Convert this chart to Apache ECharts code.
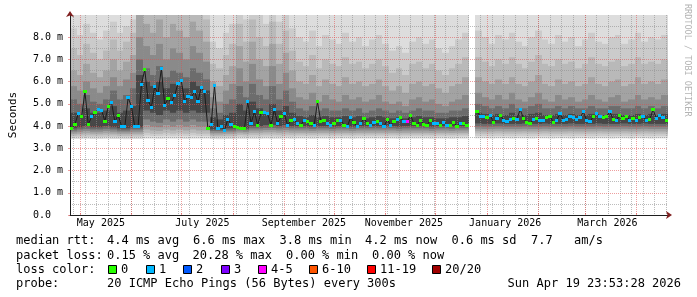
<!DOCTYPE html>
<html><head><meta charset="utf-8">
<script src="https://cdn.jsdelivr.net/npm/echarts@6/dist/echarts.min.js"></script>
<style>html,body{margin:0;padding:0;background:#fff}#c{width:697px;height:297px}</style>
</head><body><div id="c"></div>
<script>
// ---------- time frame (days since 2025-04-25, 360 days shown) ----------
const totalDays = 360;
const smokeStep = 4;   // days per smoke bucket
const medianStep = 2;  // days per median bucket
const monthStartDays = [6, 37, 67, 98, 129, 159, 190, 220, 251, 282, 310, 341];
const xLabelDays = [18.6, 79.7, 140.8, 201, 262, 323.5];
const xLabels = ['May 2025', 'July 2025', 'September 2025', 'November 2025', 'January 2026', 'March 2026'];
const yMajorTicks = [0, 1, 2, 3, 4, 5, 6, 7, 8];
const yTickLabels = ['0.0  ', '1.0 m', '2.0 m', '3.0 m', '4.0 m', '5.0 m', '6.0 m', '7.0 m', '8.0 m'];

// ---------- median rtt (ms), one value per 2 days ----------
const medianRtt = [
3.90,4.09,4.57,4.42,5.54,4.07,4.42,4.60,4.75,4.72,4.22,4.87,5.07,4.20,4.50,4.00,3.97,5.29,4.87,3.97,
4.00,5.86,6.55,5.17,4.84,5.77,5.45,6.59,4.94,5.23,5.05,5.38,5.92,6.04,5.09,5.35,5.29,5.57,5.09,5.74,
5.54,3.90,4.07,5.84,3.90,4.00,3.82,4.30,4.09,4.00,3.95,3.90,3.88,5.09,4.12,4.64,4.05,4.60,4.60,4.55,
4.05,4.75,4.12,4.42,4.55,4.05,4.24,4.30,4.10,4.05,4.27,4.20,4.12,4.05,5.09,4.20,4.27,4.12,4.05,4.12,
4.27,4.27,4.05,4.00,4.40,4.15,3.97,4.12,4.35,4.12,4.05,4.15,4.20,4.12,3.97,4.30,4.05,4.20,4.30,4.37,
4.20,4.20,4.50,4.12,4.05,4.27,4.07,4.05,4.27,4.12,4.12,4.05,4.15,4.05,4.05,4.15,4.00,4.12,4.12,4.05,
null,null,4.64,4.45,4.42,4.37,4.50,4.15,4.35,4.50,4.27,4.20,4.30,4.35,4.30,4.75,4.35,4.15,4.12,4.30,
4.35,4.27,4.27,4.37,4.45,4.15,4.27,4.57,4.24,4.30,4.42,4.37,4.30,4.37,4.64,4.27,4.20,4.42,4.57,4.45,
4.37,4.45,4.64,4.30,4.27,4.50,4.35,4.45,4.27,4.35,4.27,4.37,4.45,4.24,4.30,4.75,4.35,4.50,4.37,4.27
];
// packet loss class index per median bucket (0 = "0", 1 = "1", 4 = "4-5")
const lossClass = [
0,0,1,0,0,0,1,0,1,1,0,0,1,1,0,1,1,1,1,1,
1,1,0,1,1,1,1,1,1,0,1,1,1,1,1,1,1,1,1,1,
1,0,1,1,1,1,1,1,1,0,0,0,0,1,1,1,0,0,1,1,
0,1,1,0,1,1,0,1,1,0,1,0,0,1,0,0,0,1,1,0,
0,1,0,1,1,0,1,1,0,0,1,1,0,1,1,0,1,0,1,0,
1,4,0,0,0,0,0,0,0,1,1,0,1,1,0,0,0,1,0,0,
null,null,0,1,1,0,1,0,1,0,1,1,1,0,1,1,0,0,0,1,
0,1,1,0,0,0,1,1,1,1,1,1,1,1,1,1,1,0,1,1,
0,0,1,0,1,0,0,0,1,0,1,0,1,1,0,0,1,1,1,0
];

// ---------- smoke: sorted-ping band edges (ms), one value per 4 days ----------
const smokeU1 = [
9.6,9.6,9.6,9.6,9.6,9.6,9.6,9.6,9.6,9.6, 9.6, 9.6,9.6,9.6,9.6,9.6,9.6,9.6,9.6,9.6,9.6, 9.6,9.6,9.6,9.6, 9.6,9.6,9.6,9.6,9.6,9.6,9.6,9.6,9.6,
9.6,9.6,9.6,9.6,9.6,9.6,9.6,9.6,9.6,9.6,9.6,9.6,9.6,9.6,9.6,9.6,9.6,9.6,9.6,9.6,9.6,9.6,9.6,9.6,9.6,9.6, null,
9.6,9.6,9.6,9.6,9.6,9.6,9.6,9.6,9.6,9.6,9.6,9.6,9.6,9.6,9.6,9.6,9.6,9.6,9.6,9.6,9.6,9.6,9.6,9.6,9.6,9.6,9.6,9.6,9.6];
const smokeU2 = [
8.4,8.1,8.6,8.2,7.9,8.3,8.7,8.2,8.5,8.8, 9.6, 9.6,9.6,9.6,9.6,9.6,9.6,9.6,9.6,9.6,9.6, 7.8,7.5,8.2,8.6, 9.5,8.8,9.5,9.0,8.6,9.5,8.7,9.2,8.4,
8.0,7.8,8.3,7.6,8.1,7.9,7.7,8.2,7.8,8.0,7.6,7.9,8.1,7.7,7.4,7.6,7.3,7.8,8.0,7.7,7.9,7.5,7.3,7.6,7.9,8.2, null,
8.3,8.0,7.7,8.1,7.9,8.2,7.8,7.6,8.0,8.3,7.9,7.7,8.1,7.8,8.0,7.6,7.9,8.2,7.8,7.7,8.0,8.1,7.7,7.9,8.2,7.8,8.0,7.9,8.1];
const smokeU3 = [
7.5,7.2,7.7,7.3,7.0,7.4,7.9,7.4,7.8,8.2, 9.6, 9.6,9.2,9.6,9.0,9.6,9.3,9.0,9.6,9.2,8.8, 6.8,6.6,7.2,7.7, 8.6,7.8,8.8,8.0,7.6,8.7,7.7,8.3,7.4,
6.9,6.7,7.2,6.6,7.0,6.8,6.7,7.1,6.8,6.9,6.6,6.8,7.0,6.7,6.4,6.6,6.3,6.8,6.9,6.6,6.8,6.5,6.3,6.6,6.8,7.1, null,
7.1,6.9,6.7,7.0,6.8,7.1,6.8,6.6,6.9,7.2,6.8,6.7,7.0,6.8,6.9,6.6,6.8,7.1,6.8,6.7,6.9,7.0,6.7,6.8,7.1,6.8,6.9,6.8,7.0];
const smokeU4 = [
6.5,6.3,6.8,6.4,6.2,6.5,7.0,6.5,6.9,7.2, 9.0, 8.6,8.2,8.8,8.0,8.6,8.3,8.0,8.7,8.3,7.8, 6.0,5.8,6.3,6.7, 7.6,6.9,7.8,7.0,6.7,7.7,6.8,7.3,6.5,
6.0,5.9,6.3,5.8,6.1,5.9,5.8,6.2,5.9,6.0,5.8,5.9,6.1,5.8,5.6,5.8,5.5,5.9,6.0,5.8,5.9,5.7,5.5,5.8,5.9,6.2, null,
6.2,6.0,5.9,6.1,5.9,6.2,5.9,5.8,6.0,6.3,5.9,5.8,6.1,5.9,6.0,5.8,5.9,6.2,5.9,5.8,6.0,6.1,5.8,5.9,6.2,5.9,6.0,5.9,6.1];
const smokeU5 = [
5.8,5.6,6.0,5.7,5.5,5.8,6.2,5.8,6.1,6.4, 8.0, 7.6,7.2,7.7,7.0,7.5,7.3,7.0,7.6,7.3,6.9, 5.3,5.1,5.6,5.9, 6.6,6.0,6.8,6.1,5.8,6.7,5.9,6.4,5.7,
5.3,5.2,5.5,5.1,5.4,5.2,5.1,5.4,5.2,5.3,5.1,5.2,5.4,5.1,5.0,5.1,4.9,5.2,5.3,5.1,5.2,5.0,4.9,5.1,5.2,5.4, null,
5.5,5.3,5.2,5.4,5.2,5.5,5.2,5.1,5.3,5.5,5.2,5.1,5.4,5.2,5.3,5.1,5.2,5.4,5.2,5.1,5.3,5.4,5.1,5.2,5.4,5.2,5.3,5.2,5.4];
const smokeU6 = [
5.2,5.0,5.4,5.1,5.0,5.2,5.6,5.2,5.4,5.7, 7.0, 6.6,6.3,6.7,6.2,6.5,6.4,6.2,6.6,6.4,6.1, 4.8,4.6,5.0,5.2, 5.8,5.3,5.9,5.4,5.2,5.8,5.2,5.6,5.1,
4.8,4.7,4.9,4.7,4.8,4.7,4.7,4.8,4.7,4.8,4.6,4.7,4.8,4.7,4.6,4.7,4.6,4.7,4.8,4.7,4.7,4.6,4.6,4.7,4.7,4.8, null,
5.0,4.9,4.8,4.9,4.8,5.0,4.8,4.8,4.9,5.0,4.8,4.8,4.9,4.8,4.9,4.8,4.8,4.9,4.8,4.8,4.9,4.9,4.8,4.8,4.9,4.8,4.9,4.8,4.9];
const smokeU7 = [
4.6,4.5,4.8,4.6,4.6,4.7,4.9,4.6,4.7,4.9, 6.3, 6.0,5.8,6.0,5.7,5.9,5.8,5.7,6.0,5.8,5.6, 4.4,4.3,4.5,4.6, 5.0,4.7,5.1,4.8,4.6,5.0,4.7,4.9,4.6,
4.45,4.4,4.5,4.4,4.45,4.4,4.4,4.45,4.4,4.45,4.35,4.4,4.45,4.4,4.35,4.4,4.35,4.4,4.45,4.4,4.4,4.35,4.35,4.4,4.4,4.45, null,
4.6,4.55,4.5,4.55,4.5,4.6,4.5,4.5,4.55,4.6,4.5,4.5,4.55,4.5,4.55,4.5,4.5,4.55,4.5,4.5,4.55,4.55,4.5,4.5,4.55,4.5,4.55,4.5,4.55];
const smokeL7 = [
3.9,3.95,4.0,3.95,3.95,4.0,3.95,3.9,3.9,3.95, 3.95, 4.7,4.6,4.5,4.7,4.6,4.7,4.6,4.7,4.6,4.6, 3.85,3.85,3.9,3.9, 3.95,3.9,4.0,4.0,4.05,4.05,4.0,4.05,4.0,
4.0,4.0,3.98,4.0,4.0,3.98,4.0,4.0,3.98,4.0,4.0,4.0,4.0,4.0,4.0,3.98,4.0,4.0,4.0,4.0,3.98,4.0,4.0,3.98,4.0,4.0, null,
4.12,4.1,4.1,4.12,4.1,4.1,4.1,4.12,4.1,4.1,4.12,4.1,4.1,4.1,4.12,4.1,4.1,4.1,4.12,4.1,4.1,4.1,4.12,4.1,4.1,4.12,4.1,4.1,4.1];
const smokeL6 = [
3.8,3.85,3.88,3.85,3.85,3.88,3.85,3.8,3.8,3.85, 3.85, 4.3,4.2,4.15,4.3,4.2,4.3,4.2,4.3,4.2,4.2, 3.78,3.78,3.8,3.8, 3.85,3.82,3.9,3.9,3.92,3.92,3.9,3.92,3.9,
3.9,3.9,3.88,3.9,3.9,3.88,3.9,3.9,3.88,3.9,3.9,3.9,3.9,3.9,3.9,3.88,3.9,3.9,3.9,3.9,3.88,3.9,3.9,3.88,3.9,3.9, null,
3.99,3.98,3.98,3.99,3.98,3.98,3.98,3.99,3.98,3.98,3.99,3.98,3.98,3.98,3.99,3.98,3.98,3.98,3.99,3.98,3.98,3.98,3.99,3.98,3.98,3.99,3.98,3.98,3.98];
const smokeL5 = [
3.72,3.75,3.78,3.75,3.75,3.78,3.75,3.72,3.72,3.75, 3.75, 4.05,3.98,3.95,4.05,3.98,4.05,3.98,4.05,3.98,3.98, 3.7,3.7,3.72,3.72, 3.76,3.74,3.8,3.8,3.82,3.82,3.8,3.82,3.8,
3.8,3.8,3.78,3.8,3.8,3.78,3.8,3.8,3.78,3.8,3.8,3.8,3.8,3.8,3.8,3.78,3.8,3.8,3.8,3.8,3.78,3.8,3.8,3.78,3.8,3.8, null,
3.88,3.87,3.87,3.88,3.87,3.87,3.87,3.88,3.87,3.87,3.88,3.87,3.87,3.87,3.88,3.87,3.87,3.87,3.88,3.87,3.87,3.87,3.88,3.87,3.87,3.88,3.87,3.87,3.87];
const smokeL4 = [
3.64,3.66,3.68,3.66,3.66,3.68,3.66,3.64,3.64,3.66, 3.66, 3.85,3.8,3.78,3.85,3.8,3.85,3.8,3.85,3.8,3.8, 3.62,3.62,3.64,3.64, 3.68,3.66,3.7,3.7,3.72,3.72,3.7,3.72,3.7,
3.7,3.7,3.69,3.7,3.7,3.69,3.7,3.7,3.69,3.7,3.7,3.7,3.7,3.7,3.7,3.69,3.7,3.7,3.7,3.7,3.69,3.7,3.7,3.69,3.7,3.7, null,
3.77,3.76,3.76,3.77,3.76,3.76,3.76,3.77,3.76,3.76,3.77,3.76,3.76,3.76,3.77,3.76,3.76,3.76,3.77,3.76,3.76,3.76,3.77,3.76,3.76,3.77,3.76,3.76,3.76];
const smokeL3 = [
3.56,3.58,3.59,3.58,3.58,3.59,3.58,3.56,3.56,3.58, 3.58, 3.7,3.66,3.65,3.7,3.66,3.7,3.66,3.7,3.66,3.66, 3.55,3.55,3.56,3.56, 3.6,3.59,3.61,3.61,3.62,3.62,3.61,3.62,3.61,
3.62,3.62,3.61,3.62,3.62,3.61,3.62,3.62,3.61,3.62,3.62,3.62,3.62,3.62,3.62,3.61,3.62,3.62,3.62,3.62,3.61,3.62,3.62,3.61,3.62,3.62, null,
3.67,3.66,3.66,3.67,3.66,3.66,3.66,3.67,3.66,3.66,3.67,3.66,3.66,3.66,3.67,3.66,3.66,3.66,3.67,3.66,3.66,3.66,3.67,3.66,3.66,3.67,3.66,3.66,3.66];
const smokeL2 = [
3.49,3.5,3.51,3.5,3.5,3.51,3.5,3.49,3.49,3.5, 3.5, 3.58,3.56,3.56,3.58,3.56,3.58,3.56,3.58,3.56,3.56, 3.49,3.49,3.49,3.49, 3.52,3.51,3.52,3.52,3.53,3.53,3.52,3.53,3.52,
3.54,3.54,3.53,3.54,3.54,3.53,3.54,3.54,3.53,3.54,3.54,3.54,3.54,3.54,3.54,3.53,3.54,3.54,3.54,3.54,3.53,3.54,3.54,3.53,3.54,3.54, null,
3.56,3.56,3.55,3.56,3.56,3.55,3.56,3.56,3.55,3.56,3.56,3.55,3.56,3.56,3.55,3.56,3.56,3.55,3.56,3.56,3.55,3.56,3.56,3.55,3.56,3.56,3.55,3.56,3.56];
const smokeL1 = [
3.42,3.42,3.43,3.42,3.42,3.43,3.42,3.42,3.41,3.42, 3.42, 3.44,3.44,3.43,3.44,3.44,3.44,3.43,3.44,3.44,3.44, 3.42,3.41,3.42,3.42, 3.43,3.43,3.43,3.43,3.44,3.43,3.43,3.44,3.43,
3.44,3.44,3.43,3.44,3.44,3.43,3.44,3.44,3.43,3.44,3.44,3.44,3.44,3.44,3.44,3.43,3.44,3.44,3.44,3.44,3.43,3.44,3.44,3.43,3.44,3.44, null,
3.45,3.45,3.44,3.45,3.45,3.44,3.45,3.45,3.44,3.45,3.45,3.44,3.45,3.45,3.44,3.45,3.45,3.44,3.45,3.45,3.44,3.45,3.45,3.44,3.45,3.45,3.44,3.45,3.45];

// ---------- legend ----------
const lossLabels = ['0', '1', '2', '3', '4-5', '6-10', '11-19', '20/20'];
const lossColors = ['#26ff00', '#00b8ff', '#0059ff', '#7e00ff', '#ff00ff', '#ff5500', '#ff0000', '#a00000'];

// ---------- styling ----------
const smokeColors = ['#dddddd', '#cbcbcb', '#b9b9b9', '#a3a3a3', '#8a8a8a', '#6c6c6c', '#474747'];
const smokeUpper = [smokeU1, smokeU2, smokeU3, smokeU4, smokeU5, smokeU6, smokeU7];
const smokeLower = [smokeL1, smokeL2, smokeL3, smokeL4, smokeL5, smokeL6, smokeL7];
const MONO = '"DejaVu Sans Mono", monospace';
const majorGridColor = 'rgba(222,79,79,0.55)';
const minorGridColor = 'rgba(143,143,143,0.6)';
const axisColor = '#1f1f1f';
const arrowColor = '#801f1f';

const weekDays = [];
for (let d = 2; d < totalDays; d += 7) weekDays.push(d);

function clipTo(params, shape) {
  const cs = params.coordSys;
  return echarts.graphic.clipRectByRect(shape, { x: cs.x, y: cs.y, width: cs.width, height: cs.height });
}

const series = [];
smokeUpper.forEach(function (upper, b) {
  const lower = smokeLower[b];
  const data = [];
  upper.forEach(function (u, j) {
    if (u == null) return;
    data.push([j * smokeStep, (j + 1) * smokeStep, lower[j], u]);
  });
  series.push({
    type: 'custom', z: 1, silent: true, animation: false,
    encode: { x: [0, 1], y: [2, 3] },
    data: data,
    renderItem: function (params, api) {
      const p0 = api.coord([api.value(0), api.value(3)]);
      const p1 = api.coord([api.value(1), api.value(2)]);
      const xa = Math.round(p0[0]), xb = Math.round(p1[0]);
      const shape = clipTo(params, { x: xa, y: p0[1], width: xb - xa, height: p1[1] - p0[1] });
      return shape ? { type: 'rect', shape: shape, style: { fill: smokeColors[b] } } : null;
    }
  });
});

// dark median connector
series.push({
  type: 'line', z: 4, silent: true, animation: false, symbol: 'none',
  connectNulls: false,
  lineStyle: { color: '#1c1c1c', width: 1 },
  data: medianRtt.map(function (v, k) { return [k * medianStep + medianStep / 2, v == null ? '-' : v]; })
});

// median colored by loss
const medData = [];
medianRtt.forEach(function (v, k) {
  if (v == null) return;
  medData.push([k * medianStep, (k + 1) * medianStep, v, lossClass[k]]);
});
series.push({
  type: 'custom', z: 5, silent: true, animation: false,
  encode: { x: [0, 1], y: 2 },
  data: medData,
  renderItem: function (params, api) {
    const p0 = api.coord([api.value(0), api.value(2)]);
    const p1 = api.coord([api.value(1), api.value(2)]);
    const xa = Math.round(p0[0]), xb = Math.round(p1[0]);
    return { type: 'rect', shape: { x: xa, y: Math.round(p0[1] - 1.5), width: xb - xa, height: 3 },
             style: { fill: lossColors[api.value(3)] } };
  }
});

// ---------- text elements ----------
const graphic = [];
function txt(x, y, s, align) {
  graphic.push({ type: 'text', x: x, y: y, silent: true,
    style: { text: s, font: '12px ' + MONO, fill: '#000', textAlign: align || 'left', textVerticalAlign: 'middle' } });
}
txt(16, 241, 'median rtt:'); txt(107, 241, '4.4 ms avg'); txt(193, 241, '6.6 ms max'); txt(279.5, 241, '3.8 ms min');
txt(365, 241, '4.2 ms now'); txt(451.5, 241, '0.6 ms sd'); txt(531, 241, '7.7'); txt(574, 241, 'am/s');
txt(16, 256, 'packet loss:'); txt(107, 256, '0.15 % avg'); txt(192.5, 256, '20.28 % max'); txt(286, 256, '0.00 % min'); txt(372, 256, '0.00 % now');
txt(16, 269.5, 'loss color:');
const boxX = [108.5, 146.5, 183.5, 221.5, 258.5, 309.5, 367.5, 432.5];
lossLabels.forEach(function (lab, i) {
  graphic.push({ type: 'rect', silent: true, shape: { x: boxX[i], y: 265.5, width: 8, height: 8 },
    style: { fill: lossColors[i], stroke: '#000', lineWidth: 1 } });
  txt(boxX[i] + 12.5, 269.5, lab);
});
txt(16, 284, 'probe:'); txt(107, 284, '20 ICMP Echo Pings (56 Bytes) every 300s');
txt(681, 284, 'Sun Apr 19 23:53:28 2026', 'right');
graphic.push({ type: 'text', x: 687, y: 4, rotation: -Math.PI / 2, silent: true,
  style: { text: 'RRDTOOL / TOBI OETIKER', font: '8.5px ' + MONO, fill: '#b4b4b4', textAlign: 'left', textVerticalAlign: 'middle' } });

const option = {
  backgroundColor: '#ffffff',
  animation: false,
  grid: { left: 67, right: 29, top: 15, bottom: 82, containLabel: false },
  xAxis: [
    { type: 'value', min: 0, max: totalDays, z: 3, position: 'bottom',
      axisLine: { show: true, onZero: false, lineStyle: { color: axisColor, width: 1 } },
      axisTick: { show: true, customValues: monthStartDays, length: 2, inside: true, lineStyle: { color: majorGridColor } },
      axisLabel: { show: true, customValues: xLabelDays, margin: 3, fontFamily: MONO, fontSize: 10, color: '#000',
        formatter: function (v) { const i = xLabelDays.indexOf(v); return i >= 0 ? xLabels[i] : ''; } },
      splitLine: { show: true, lineStyle: { color: majorGridColor, width: 1, type: [1, 1] } } },
    { type: 'value', min: 0, max: totalDays, z: 2, position: 'bottom',
      axisLine: { show: false }, axisLabel: { show: false },
      axisTick: { show: false, customValues: weekDays },
      splitLine: { show: true, lineStyle: { color: minorGridColor, width: 1, type: [1, 1] } } },
    { type: 'value', min: 0, max: totalDays, z: 6, position: 'bottom',
      axisLine: { show: true, onZero: false, lineStyle: { color: arrowColor, width: 0 }, symbol: ['none', 'arrow'], symbolSize: [6, 6], symbolOffset: [0, 4] },
      axisLabel: { show: false }, axisTick: { show: false }, splitLine: { show: false } }
  ],
  yAxis: [
    { type: 'value', min: 0, max: 9, interval: 1, z: 3, position: 'left',
      name: 'Seconds', nameLocation: 'middle', nameGap: 51, nameRotate: 90,
      nameTextStyle: { fontFamily: MONO, fontSize: 11, color: '#000' },
      axisLine: { show: true, onZero: false, lineStyle: { color: axisColor, width: 1 } },
      axisTick: { show: true, customValues: yMajorTicks, length: 2, lineStyle: { color: majorGridColor } },
      axisLabel: { show: true, customValues: yMajorTicks, margin: 7, fontFamily: MONO, fontSize: 10, color: '#000',
        formatter: function (v) { const i = yMajorTicks.indexOf(v); return i >= 0 ? yTickLabels[i] : ''; } },
      splitLine: { show: true, lineStyle: { color: majorGridColor, width: 1, type: [1, 1] } },
      minorTick: { show: false, splitNumber: 2 },
      minorSplitLine: { show: true, lineStyle: { color: minorGridColor, width: 1, type: [1, 1] } } },
    { type: 'value', min: 0, max: 9, z: 6, position: 'left',
      axisLine: { show: true, onZero: false, lineStyle: { color: arrowColor, width: 0 }, symbol: ['none', 'arrow'], symbolSize: [6, 6], symbolOffset: [0, 4] },
      axisLabel: { show: false }, axisTick: { show: false }, splitLine: { show: false } }
  ],
  series: series,
  graphic: graphic
};

const chart = echarts.init(document.getElementById('c'), null, { renderer: 'canvas' });
chart.setOption(option);
</script>
</body></html>
